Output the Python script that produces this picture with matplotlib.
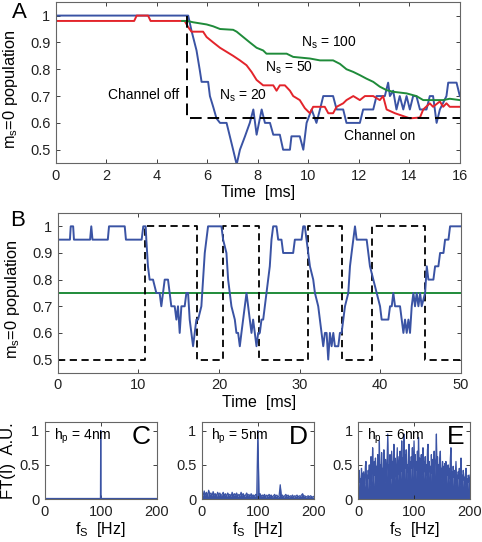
import numpy as np
import matplotlib
matplotlib.use("Agg")
import matplotlib.pyplot as plt

plt.rcParams['font.family'] = ['Liberation Sans', 'DejaVu Sans']
plt.rcParams['mathtext.fontset'] = 'custom'
plt.rcParams['mathtext.rm'] = 'Liberation Sans'
plt.rcParams['mathtext.it'] = 'Liberation Sans'

BLUE = '#3a53a4'
RED = '#e3242b'
GREEN = '#1f8b3a'

# ---- Panel A: m_s=0 population vs time for several N_s ----
a_t20 = [0, 5.24, 5.37, 5.57, 5.70, 5.77, 6.03, 6.10, 6.23, 6.36, 6.50, 6.76, 6.89, 7.02, 7.16,
         7.29, 7.49, 7.68, 7.82, 7.95, 8.15, 8.28, 8.48, 8.61, 8.87, 9.00, 9.27, 9.33, 9.66, 9.80,
         9.93, 10.13, 10.32, 10.46, 10.59, 10.98, 11.12, 11.38, 11.51, 12.04, 12.17, 12.57, 12.70,
         13.03, 13.16, 13.23, 13.36, 13.49, 13.62, 13.76, 13.89, 14.02, 14.15, 14.28, 14.42, 14.68,
         14.81, 14.94, 15.08, 15.21, 15.47, 15.54, 15.87, 16.0]
a_v20 = [1.0, 1.0, 0.944, 0.87, 0.796, 0.753, 0.753, 0.70, 0.66, 0.617, 0.60, 0.60, 0.55, 0.50, 0.445,
         0.50, 0.55, 0.60, 0.65, 0.556, 0.65, 0.60, 0.60, 0.556, 0.556, 0.50, 0.50, 0.55, 0.55, 0.50,
         0.60, 0.65, 0.60, 0.65, 0.70, 0.70, 0.65, 0.65, 0.60, 0.60, 0.65, 0.65, 0.70,
         0.70, 0.75, 0.70, 0.72, 0.65, 0.70, 0.65, 0.70, 0.65, 0.70, 0.70, 0.65, 0.65,
         0.70, 0.70, 0.60, 0.65, 0.70, 0.75, 0.75, 0.70]

a_t50 = [0, 3.10, 3.20, 3.65, 3.75, 5.10, 5.24, 5.37, 5.83, 5.97, 6.23, 6.50, 6.76, 7.02, 7.29, 7.55,
         7.75, 7.95, 8.21, 8.61, 8.74, 8.87, 9.07, 9.27, 9.40, 9.66, 9.86, 10.06, 10.19, 10.65, 10.79,
         10.98, 11.12, 11.38, 11.51, 11.78, 12.04, 12.24, 12.57, 12.83, 12.96, 13.10, 13.43, 14.02,
         14.42, 14.55, 14.81, 14.94, 15.21, 15.34, 15.47, 15.60, 16.0]
a_v50 = [0.98, 0.98, 1.0, 1.0, 0.98, 0.98, 0.957, 0.94, 0.94, 0.92, 0.90, 0.88, 0.865, 0.85, 0.833, 0.815,
         0.79, 0.76, 0.74, 0.74, 0.72, 0.74, 0.74, 0.72, 0.70, 0.685, 0.655, 0.636, 0.66, 0.66, 0.636,
         0.636, 0.66, 0.673, 0.685, 0.70, 0.685, 0.70, 0.70, 0.685, 0.70, 0.65, 0.636, 0.617,
         0.62, 0.65, 0.673, 0.66, 0.68, 0.66, 0.673, 0.66, 0.66]

a_t100 = [5.00, 5.20, 5.44, 5.97, 6.23, 6.50, 7.02, 7.16, 7.42, 7.68, 7.95, 8.21, 8.34, 9.14, 9.40, 10.06,
          10.46, 10.98, 11.25, 11.51, 11.78, 12.04, 12.30, 12.57, 12.83, 13.10, 13.36, 13.89, 14.28,
          14.55, 15.34, 15.60, 16.0]
a_v100 = [0.98, 0.98, 0.975, 0.967, 0.96, 0.95, 0.947, 0.94, 0.92, 0.90, 0.88, 0.87, 0.858, 0.858, 0.846, 0.84,
          0.833, 0.833, 0.82, 0.80, 0.79, 0.778, 0.765, 0.753, 0.735, 0.722, 0.716, 0.71, 0.70,
          0.685, 0.685, 0.69, 0.685]

a_channel_t = [5.2, 5.2, 16.0]
a_channel_v = [1.0, 0.617, 0.617]

# ---- Panel B: switching channel ----
b_t = [0, 1.5, 1.6, 1.9, 2.0, 4.0, 4.15, 4.3, 6.2, 6.35, 8.3, 8.45, 10.4, 10.6, 10.9,
       10.98, 11.18, 11.39, 11.81, 12.22, 12.63, 12.84, 13.05, 13.26, 13.67, 13.88, 14.08, 14.50,
       14.71, 14.91, 15.12, 15.33, 15.74, 15.95, 16.16, 16.36, 16.57, 16.78, 16.98, 17.19, 17.40,
       17.81, 18.02, 18.23, 18.43, 18.64, 20.30, 20.51, 20.92, 21.13, 21.33, 21.54, 21.96, 22.16,
       22.37, 22.58, 22.78, 23.20, 23.41, 23.61, 23.82, 24.03, 24.23, 24.44, 24.65, 24.86, 25.06,
       25.27, 25.48, 25.68, 25.89, 26.10, 26.30, 26.51, 26.72, 27.13, 27.34, 27.75, 27.96, 29.20,
       29.41, 30.24, 30.45, 30.65, 30.86, 31.07, 31.28, 31.69, 31.90, 32.31, 32.52, 32.73, 32.93,
       33.14, 33.35, 33.55, 33.76, 33.97, 34.18, 34.38, 34.80, 35.00, 35.21, 35.42, 35.63, 36.04,
       36.25, 36.45, 36.87, 37.08, 38.32, 38.53, 38.73, 39.15, 39.56, 39.98, 40.18, 41.01, 41.22,
       41.43, 41.63, 41.84, 42.46, 42.67, 42.88, 43.08, 43.29, 43.50, 43.70, 43.91, 44.12, 44.32,
       44.53, 44.74, 44.95, 45.15, 45.57, 45.78, 45.98, 46.60, 46.81, 47.22, 47.43, 47.85, 48.05,
       48.47, 48.67, 50.0]
b_v = [0.95, 0.95, 1.0, 1.0, 0.95, 0.95, 1.0, 0.95, 0.95, 1.0, 1.0, 0.95, 0.95, 1.0, 1.0,
       0.95, 0.85, 0.80, 0.80, 0.75, 0.75, 0.70, 0.75, 0.80, 0.80, 0.75, 0.70, 0.70,
       0.65, 0.70, 0.60, 0.70, 0.70, 0.75, 0.75, 0.65, 0.60, 0.55, 0.60, 0.65, 0.65,
       0.70, 0.80, 0.90, 0.95, 1.0, 1.0, 0.95, 0.90, 0.80, 0.75, 0.70, 0.65, 0.60,
       0.60, 0.55, 0.60, 0.70, 0.75, 0.70, 0.65, 0.60, 0.65, 0.60, 0.55, 0.60, 0.60,
       0.65, 0.65, 0.70, 0.75, 0.80, 0.85, 0.95, 1.0, 1.0, 0.95, 0.95, 0.90, 0.90,
       0.95, 0.95, 1.0, 1.0, 0.95, 0.90, 0.85, 0.80, 0.75, 0.70, 0.65, 0.60, 0.55,
       0.60, 0.60, 0.50, 0.60, 0.55, 0.60, 0.55, 0.55, 0.60, 0.60, 0.65, 0.70, 0.75,
       0.85, 0.90, 1.0, 0.95, 0.95, 0.90, 0.85, 0.80, 0.75, 0.70, 0.65, 0.65, 0.70,
       0.70, 0.75, 0.70, 0.70, 0.65, 0.60, 0.65, 0.60, 0.65, 0.60, 0.70, 0.75, 0.70,
       0.75, 0.70, 0.75, 0.70, 0.75, 0.85, 0.80, 0.80, 0.85, 0.85, 0.90, 0.90, 0.95,
       0.95, 1.0, 1.0]
b_switch_t = [0, 10.85, 17.27, 20.5, 24.98, 31.07, 35.2, 38.94, 45.57, 50]
b_switch_v = [0.5, 1.0, 0.5, 1.0, 0.5, 1.0, 0.5, 1.0, 0.5, 0.5]
b_mean = 0.75

# ---- Panels C-E: spectra ----
c_f = [0, 50, 98, 99.5, 100, 100.5, 102, 150, 200]
c_amp = [0.01, 0.01, 0.01, 0.01, 1.0, 0.01, 0.01, 0.01, 0.01]

d_amp = [0.08, 0.05, 0.12, 0.06, 0.10, 0.04, 0.13, 0.07, 0.09, 0.05, 0.11, 0.06, 0.08, 0.04, 0.10,
         0.06, 0.09, 0.05, 0.07, 0.10, 0.05, 0.08, 0.04, 0.09, 0.06, 0.07, 0.04, 0.10, 0.05, 0.08,
         0.06, 0.09, 0.04, 0.07, 0.05, 0.10, 0.06, 0.08, 0.04, 0.06, 0.09, 0.05, 0.07, 0.04, 0.08,
         0.05, 0.06, 0.04, 0.07, 0.05, 1.00, 0.05, 0.08, 0.04, 0.06, 0.05, 0.07, 0.03, 0.06, 0.04,
         0.07, 0.05, 0.06, 0.03, 0.05, 0.07, 0.04, 0.06, 0.03, 0.05, 0.21, 0.04, 0.06, 0.03, 0.05,
         0.07, 0.04, 0.06, 0.03, 0.05, 0.04, 0.06, 0.03, 0.05, 0.04, 0.06, 0.03, 0.05, 0.04, 0.06,
         0.08, 0.04, 0.05, 0.03, 0.04, 0.05, 0.03, 0.05, 0.04, 0.03, 0.04]
d_f = np.arange(len(d_amp)) * 2.0

e_amp = [0.35, 0.18, 0.42, 0.25, 0.30, 0.15, 0.45, 0.22, 0.38, 0.20, 0.40, 0.28, 0.18, 0.48, 0.55, 0.22, 0.35, 0.15, 0.42, 0.30,
         0.50, 0.20, 0.38, 0.62, 0.25, 0.45, 0.75, 0.30, 0.20, 0.55, 0.35, 0.60, 0.22, 0.48, 0.30, 0.65, 0.25, 0.40, 0.85, 0.28,
         0.50, 0.35, 0.68, 0.20, 0.45, 0.30, 0.72, 0.38, 0.25, 0.58, 0.40, 0.30, 0.62, 0.95, 0.28, 0.50, 0.35, 0.65, 0.22, 0.48,
         0.70, 0.30, 0.55, 0.38, 0.80, 0.25, 0.60, 0.40, 0.32, 0.52, 0.75, 0.28, 0.45, 0.62, 0.35, 0.70, 0.30, 0.55, 0.85, 0.40,
         0.60, 0.35, 0.95, 0.30, 0.65, 0.45, 0.72, 0.28, 0.50, 0.40, 0.68, 0.80, 0.35, 0.55, 0.30, 0.62, 0.45, 0.75, 0.32, 0.58,
         0.85, 0.38, 0.65, 0.30, 0.55, 0.42, 0.70, 0.35, 0.90, 0.40, 0.60, 0.28, 0.52, 0.65, 0.35, 0.48, 0.75, 0.30, 0.55, 0.40,
         0.62, 0.28, 0.50, 0.35, 0.72, 0.80, 0.32, 0.55, 0.40, 0.48, 0.25, 0.65, 0.38, 0.58, 0.30, 0.45, 0.70, 0.35, 0.52, 0.60,
         0.95, 0.35, 0.62, 0.28, 0.50, 0.40, 0.58, 0.70, 0.30, 0.45, 0.35, 0.55, 0.25, 0.48, 0.38, 0.52, 0.30, 0.55, 0.22, 0.42,
         0.35, 0.50, 0.25, 0.45, 0.30, 0.60, 0.75, 0.28, 0.40, 0.20, 0.48, 0.32, 0.42, 0.22, 0.38, 0.55, 0.25, 0.35, 0.18, 0.40,
         0.30, 0.45, 0.20, 0.38, 0.60, 0.25, 0.35, 0.18, 0.42, 0.28, 0.32, 0.20, 0.38, 0.45, 0.22, 0.30, 0.15, 0.35, 0.25, 0.28,
         0.35]
e_f = np.arange(len(e_amp)) * 1.0

spec_labels = ['h$_p$ = 4nm', 'h$_p$ = 5nm', 'h$_p$ = 6nm']
spec_letters = ['C', 'D', 'E']

pop_ticks = [0.5, 0.6, 0.7, 0.8, 0.9, 1.0]
pop_ticklabels = ['0.5', '0.6', '0.7', '0.8', '0.9', '1']


def style(ax):
    ax.tick_params(direction='in', top=True, right=True, length=3, width=0.6,
                   labelsize=10.5, colors='#222222', pad=4)
    for s in ax.spines.values():
        s.set_color('#666666')
        s.set_linewidth(0.8)


fig = plt.figure(figsize=(4.82, 5.42), dpi=100)

# Panel A
axA = fig.add_axes([0.116, 0.699, 0.838, 0.297])
axA.plot(a_t20, a_v20, color=BLUE, lw=1.4)
axA.plot(a_t50, a_v50, color=RED, lw=1.4)
axA.plot(a_t100, a_v100, color=GREEN, lw=1.4)
axA.plot(a_channel_t, a_channel_v, color='black', lw=1.4, dashes=(6, 3))
axA.set_xlim(0, 16)
axA.set_ylim(0.45, 1.05)
axA.set_xticks(range(0, 17, 2))
axA.set_yticks(pop_ticks)
axA.set_yticklabels(pop_ticklabels)
axA.set_xlabel('Time  [ms]', fontsize=11.5, labelpad=2)
axA.set_ylabel('m$_s$=0 population', fontsize=11.8, labelpad=4)
axA.yaxis.set_label_coords(-0.09, 0.46)
axA.text(9.7, 0.885, 'N$_s$ = 100', fontsize=10)
axA.text(8.3, 0.79, 'N$_s$ = 50', fontsize=10)
axA.text(6.45, 0.685, 'N$_s$ = 20', fontsize=10)
axA.text(4.9, 0.705, 'Channel off', fontsize=10, ha='right', va='center')
axA.text(11.4, 0.55, 'Channel on', fontsize=10, va='center')
style(axA)
fig.text(0.025, 0.997, 'A', fontsize=16, va='top')

# Panel B
axB = fig.add_axes([0.120, 0.312, 0.836, 0.295])
axB.axhline(b_mean, color=GREEN, lw=1.4)
axB.plot(b_switch_t, b_switch_v, color='black', lw=1.3, dashes=(4, 2.5), drawstyle='steps-post')
axB.plot(b_t, b_v, color=BLUE, lw=1.4)
axB.set_xlim(0, 50)
axB.set_ylim(0.45, 1.05)
axB.set_xticks(range(0, 51, 10))
axB.set_yticks(pop_ticks)
axB.set_yticklabels(pop_ticklabels)
axB.set_xlabel('Time  [ms]', fontsize=11.5, labelpad=2)
axB.set_ylabel('m$_s$=0 population', fontsize=11.8, labelpad=4)
axB.yaxis.set_label_coords(-0.09, 0.46)
style(axB)
fig.text(0.022, 0.612, 'B', fontsize=16, va='top')

# Panels C, D, E
lefts = [0.093, 0.419, 0.743]
spectra = [(c_f, c_amp), (d_f, d_amp), (e_f, e_amp)]
for i, (f, amp) in enumerate(spectra):
    ax = fig.add_axes([lefts[i], 0.0790, 0.232, 0.143])
    if i > 0:
        ax.fill_between(f, 0, amp, color=BLUE, lw=0)
    ax.plot(f, amp, color=BLUE, lw=0.9)
    ax.set_xlim(0, 200)
    ax.set_ylim(0, 1.13)
    ax.set_xticks([0, 100, 200])
    ax.set_yticks([0, 0.5, 1])
    ax.set_yticklabels(['0', '0.5', '1'])
    ax.set_xlabel('f$_S$  [Hz]', fontsize=11.5, labelpad=1)
    ax.text(0.08, 0.93, spec_labels[i], transform=ax.transAxes, fontsize=10, va='top')
    ax.text(0.95, 0.96, spec_letters[i], transform=ax.transAxes, fontsize=19,
            ha='right', va='top')
    style(ax)
    if i == 0:
        ax.set_ylabel('FT(I)  A.U.', fontsize=12, labelpad=2)

fig.savefig('out.png', dpi=100)
